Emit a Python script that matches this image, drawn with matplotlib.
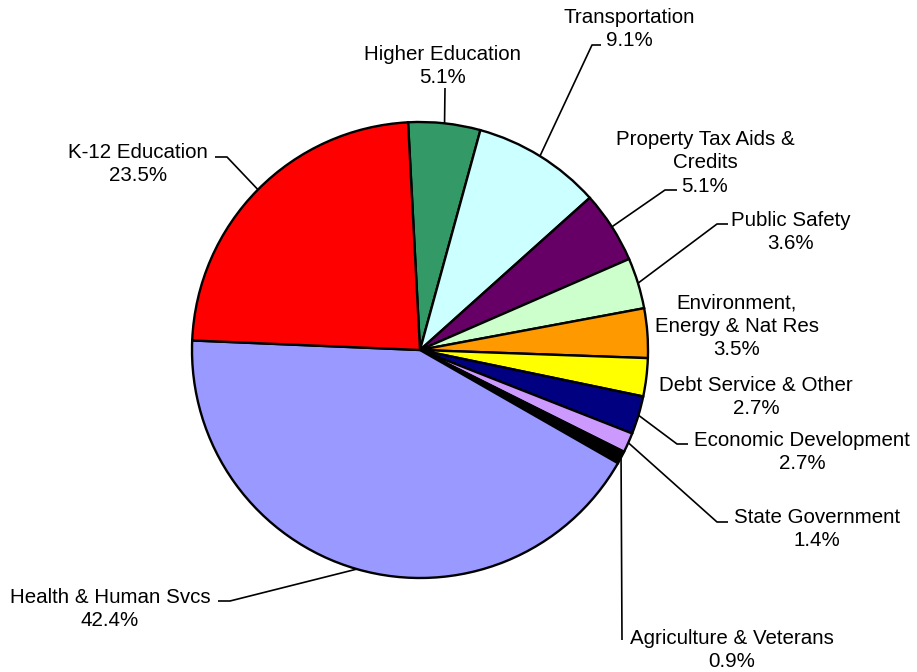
import numpy as np
import matplotlib
matplotlib.use("Agg")
import matplotlib.pyplot as plt

plt.rcParams['font.family'] = ['Liberation Sans', 'DejaVu Sans']

# slices, clockwise from the top
categories = ['Higher Education', 'Transportation', 'Property Tax Aids &\nCredits',
              'Public Safety', 'Environment,\nEnergy & Nat Res', 'Debt Service & Other',
              'Economic Development', 'State Government', 'Agriculture & Veterans',
              'Health & Human Svcs', 'K-12 Education']
shares = [5.1, 9.1, 5.1, 3.6, 3.5, 2.7, 2.7, 1.4, 0.9, 42.4, 23.5]
colors = ['#339966', '#CCFFFF', '#660066', '#CCFFCC', '#FF9900', '#FFFF00',
          '#000080', '#CC99FF', '#000000', '#9999FF', '#FF0000']

# label layout in pixels (text centre, leader elbow, leader end)
label_pos = [(443, 66), (629, 29), (705, 163), (791, 232), (737, 326), (756, 397),
             (802, 452), (817, 529), (732, 650), (110, 609), (138, 164)]
elbows = [None, (592, 45), (665, 190), (717, 224), None, None,
          (677, 444), (717, 522), None, (230, 601), (227, 157)]
ends = [(445, 88), (601, 45), (677, 190), (728, 224), None, None,
        (688, 444), (728, 522), (622, 640), (218, 601), (215, 157)]

W, H = 917, 672
cx, cy, r = 420, 350, 228
start = 93

fig = plt.figure(figsize=(W / 100, H / 100), dpi=100)
ax = fig.add_axes([0, 0, 1, 1])
ax.set_xlim(0, W)
ax.set_ylim(0, H)
ax.set_aspect('equal')
ax.axis('off')

ax.pie(shares, colors=colors, startangle=start, counterclock=False,
       center=(cx, H - cy), radius=r,
       wedgeprops=dict(edgecolor='black', linewidth=1.7))
ax.set_xlim(0, W)
ax.set_ylim(0, H)

cum = np.cumsum([0] + shares[:-1])
for i, (name, v) in enumerate(zip(categories, shares)):
    mid = np.deg2rad(start - (cum[i] + v / 2) * 3.6)
    px, py = cx + r * np.cos(mid), H - cy + r * np.sin(mid)
    tx, ty = label_pos[i]
    ax.text(tx, H - ty, f'{name}\n{v}%', ha='center', va='center',
            multialignment='center', fontsize=14.8, linespacing=1.29)
    if ends[i] is None:
        continue
    pts = [(px, py)]
    if elbows[i] is not None:
        pts.append((elbows[i][0], H - elbows[i][1]))
    pts.append((ends[i][0], H - ends[i][1]))
    xs, ys = zip(*pts)
    ax.plot(xs, ys, color='black', linewidth=1.2, solid_capstyle='butt')

fig.savefig('out.png', dpi=100)
